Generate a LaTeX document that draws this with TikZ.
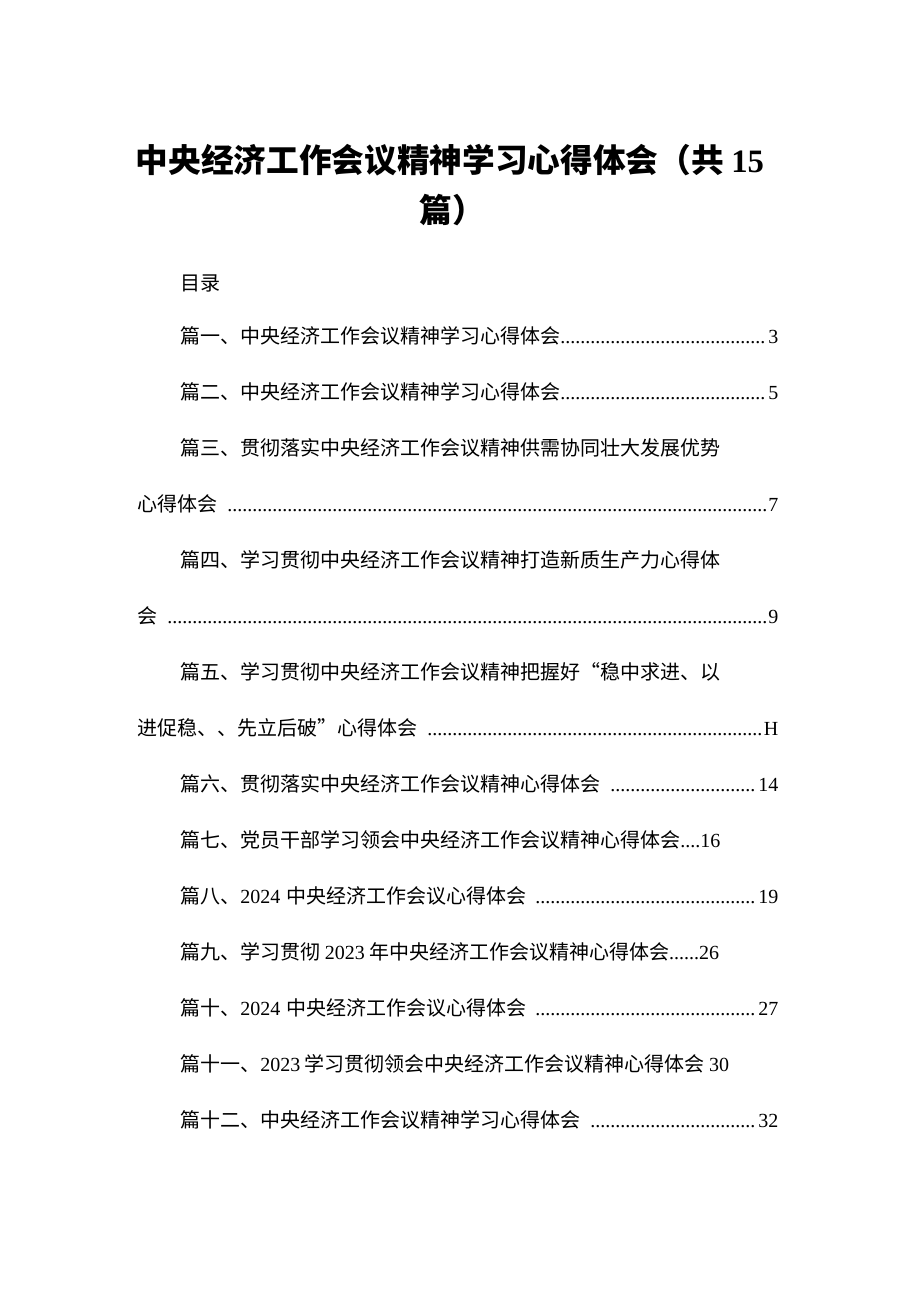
\documentclass[tikz,border=0pt]{standalone}
\usepackage{fontspec}
\newfontfamily\cjk{Noto Sans CJK SC}
\newfontfamily\latn{Liberation Serif}
\newcommand{\nm}[1]{{\latn #1}}
\newcommand{\dts}{{\latn\leaders\hbox{.}\hfill}}
\tikzset{
  entry/.style={anchor=west, inner sep=0pt, font=\cjk\fontsize{15}{15}\selectfont},
  leader/.style={entry, text width=#1*0.75pt, align=left},
  heading/.style={anchor=center, inner sep=0pt, font=\cjk\bfseries\fontsize{24.5}{24.5}\selectfont}
}
\begin{document}
\begin{tikzpicture}[x=0.75pt,y=-0.75pt]
  \useasboundingbox (0,0) rectangle (920,1301);
  % title
  \node[heading] (T1) at (450,160) {中央经济工作会议精神学习心得体会（共 \nm{\textbf{15}}};
  \node[heading] (T2) at (452,210) {篇）};
  \node[entry] (mulu) at (180,283) {目录};
  % entries
  \node[leader=598] (E1) at (180,336) {篇一、中央经济工作会议精神学习心得体会\dts\nm{3}};
  \node[leader=598] (E2) at (180,392) {篇二、中央经济工作会议精神学习心得体会\dts\nm{5}};
  \node[entry] (E3a) at (180,448) {篇三、贯彻落实中央经济工作会议精神供需协同壮大发展优势};
  \node[leader=641] (E3b) at (137,504) {心得体会 \dts\nm{7}};
  \node[entry] (E4a) at (180,560) {篇四、学习贯彻中央经济工作会议精神打造新质生产力心得体};
  \node[leader=641] (E4b) at (137,616) {会 \dts\nm{9}};
  \node[entry] (E5a) at (180,672) {篇五、学习贯彻中央经济工作会议精神把握好“稳中求进、以};
  \node[leader=641] (E5b) at (137,728) {进促稳、、先立后破”心得体会 \dts\nm{H}};
  \node[leader=598] (E6) at (180,784) {篇六、贯彻落实中央经济工作会议精神心得体会 \dts\nm{14}};
  \node[entry] (E7) at (180,840) {篇七、党员干部学习领会中央经济工作会议精神心得体会\nm{....16}};
  \node[leader=598] (E8) at (180,896) {篇八、\nm{2024} 中央经济工作会议心得体会 \dts\nm{19}};
  \node[entry] (E9) at (180,952) {篇九、学习贯彻 \nm{2023} 年中央经济工作会议精神心得体会\nm{......26}};
  \node[leader=598] (E10) at (180,1008) {篇十、\nm{2024} 中央经济工作会议心得体会 \dts\nm{27}};
  \node[entry] (E11) at (180,1064) {篇十一、\nm{2023} 学习贯彻领会中央经济工作会议精神心得体会 \nm{30}};
  \node[leader=598] (E12) at (180,1120) {篇十二、中央经济工作会议精神学习心得体会 \dts\nm{32}};
\end{tikzpicture}
\end{document}
